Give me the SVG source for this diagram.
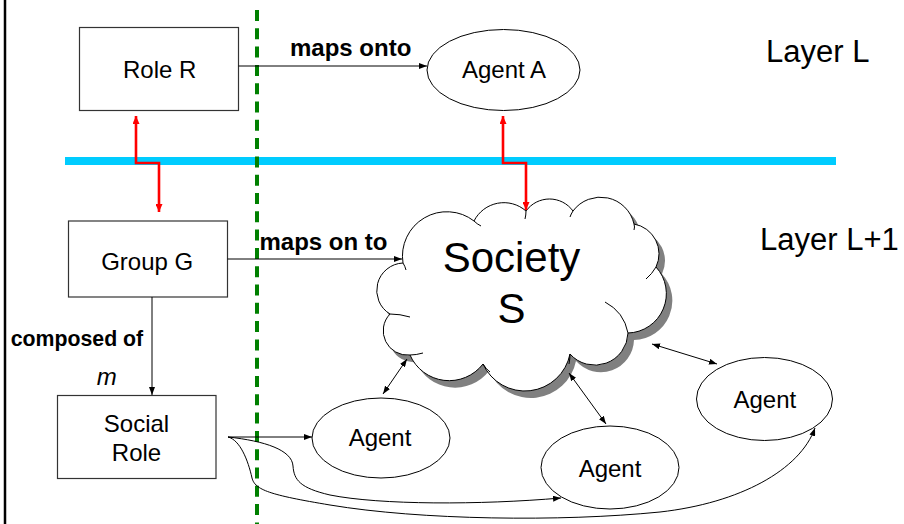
<svg xmlns="http://www.w3.org/2000/svg" width="904" height="524" viewBox="0 0 904 524">
  <style>
    text { font-family: "Liberation Sans", Arial, Helvetica, sans-serif; fill: #000; }
    .node { font-size: 24px; text-anchor: middle; }
    .lbl { font-size: 24px; font-weight: bold; }
    .lbl-small { font-size: 21.3px; font-weight: bold; }
    .mult { font-size: 24px; font-style: italic; }
    .big { font-size: 42px; text-anchor: middle; }
    .layer { font-size: 31px; }
    .box { fill: #fff; stroke: #333; stroke-width: 1.2; }
    .oval { fill: #fff; stroke: #000; stroke-width: 1; }
    .link { fill: none; stroke: #000; stroke-width: 1; }
    .red { fill: none; stroke: #ff0000; stroke-width: 2.6; }
    .tick { fill: none; stroke: #000; stroke-width: 1; }
  </style>
  <defs>
    <marker id="ah" viewBox="0 0 8 6" refX="8" refY="3" markerWidth="8" markerHeight="6" markerUnits="userSpaceOnUse" orient="auto-start-reverse">
      <path d="M0,0 L8,3 L0,6 z" fill="#000"/>
    </marker>
    <marker id="ahRed" viewBox="0 0 8 7" refX="8" refY="3.5" markerWidth="8" markerHeight="7" markerUnits="userSpaceOnUse" orient="auto-start-reverse">
      <path d="M0,0 L8,3.5 L0,7 z" fill="#ff0000"/>
    </marker>
    <path id="cloudShape" d="M403,263 A44.4,44.4 0 0 1 474,221 A33.5,33.5 0 0 1 526,211 A29,29 0 0 1 573,211 A34.3,34.3 0 0 1 634,224 A30.3,30.3 0 0 1 656,267 A39.4,39.4 0 0 1 628,333 A33.2,33.2 0 0 1 570,354 A46,46 0 0 1 483,364 A42.7,42.7 0 0 1 410,355 A24.3,24.3 0 0 1 390,314 A27.5,27.5 0 0 1 403,263 Z"/>
  </defs>

  <rect width="904" height="524" fill="#fff"/>

  <!-- frame edge and layer separators -->
  <line x1="5" y1="0" x2="5" y2="524" stroke="#000" stroke-width="2.5"/>
  <line x1="65" y1="161" x2="836" y2="161" stroke="#00ccff" stroke-width="8"/>
  <line x1="257" y1="10" x2="257" y2="524" stroke="#008000" stroke-width="4" stroke-dasharray="11 7.3"/>

  <!-- layer captions -->
  <text class="layer" x="766" y="62">Layer L</text>
  <text class="layer" x="760" y="250">Layer L+1</text>

  <!-- Layer L -->
  <g id="role-r">
    <rect class="box" x="79.5" y="27.5" width="159" height="83"/>
    <text class="node" x="159.7" y="78.3">Role R</text>
  </g>
  <g id="agent-a">
    <ellipse class="oval" cx="503.5" cy="70" rx="76.5" ry="40.5"/>
    <text class="node" x="504" y="77.7">Agent A</text>
  </g>

  <!-- Layer L+1 -->
  <g id="group-g">
    <rect class="box" x="68.5" y="221" width="159" height="76"/>
    <text class="node" x="147.2" y="270">Group G</text>
  </g>
  <g id="social-role">
    <rect class="box" x="57.5" y="395.5" width="158.5" height="83"/>
    <text class="node" x="136.5" y="431.7">Social</text>
    <text class="node" x="136.5" y="460.5">Role</text>
  </g>
  <g id="society-s">
    <use href="#cloudShape" transform="translate(6,7)" fill="#808080"/>
    <use href="#cloudShape" fill="#fff" stroke="#000" stroke-width="1"/>
    <path class="tick" d="M403,263 Q405,266 406,270"/>
    <path class="tick" d="M474,221 Q477,224 481,226"/>
    <path class="tick" d="M526,211 Q526,215 525,219"/>
    <path class="tick" d="M573,211 Q571,214 570,217"/>
    <path class="tick" d="M634,224 Q635,227 634,230"/>
    <path class="tick" d="M656,267 Q652,274 646,279"/>
    <path class="tick" d="M605,302 Q624,312 628,333"/>
    <path class="tick" d="M570,354 Q570,359 569,364"/>
    <path class="tick" d="M483,364 Q486,369 490,372"/>
    <path class="tick" d="M410,355 Q416,355 423,353"/>
    <path class="tick" d="M390,314 Q400,314 410,317"/>
    <text class="big" x="511.5" y="272">Society</text>
    <text class="big" x="511.5" y="323">S</text>
  </g>
  <g id="agent-1">
    <ellipse class="oval" cx="381" cy="438" rx="69" ry="40"/>
    <text class="node" x="380" y="445.7">Agent</text>
  </g>
  <g id="agent-2">
    <ellipse class="oval" cx="610" cy="467.5" rx="69" ry="41.5"/>
    <text class="node" x="610" y="476.7">Agent</text>
  </g>
  <g id="agent-3">
    <ellipse class="oval" cx="764.5" cy="399" rx="68" ry="41.5"/>
    <text class="node" x="764.8" y="408.3">Agent</text>
  </g>

  <!-- connectors -->
  <g id="connectors">
    <line class="link" x1="238.5" y1="66" x2="427" y2="66" marker-end="url(#ah)"/>
    <text class="lbl" x="290" y="55.5">maps onto</text>

    <line class="link" x1="227.5" y1="259" x2="402" y2="259" marker-end="url(#ah)"/>
    <text class="lbl" x="259.5" y="250">maps on to</text>

    <line class="link" x1="152" y1="297" x2="152" y2="395" marker-end="url(#ah)"/>
    <text class="lbl-small" x="10.7" y="345.5">composed of</text>
    <text class="mult" x="96.7" y="385">m</text>

    <path class="red" d="M136,116 V163 H159 V212" marker-start="url(#ahRed)" marker-end="url(#ahRed)"/>
    <path class="red" d="M503,116 V163 H526 V210" marker-start="url(#ahRed)" marker-end="url(#ahRed)"/>

    <line class="link" x1="407" y1="359" x2="383" y2="394" marker-start="url(#ah)" marker-end="url(#ah)"/>
    <line class="link" x1="569" y1="373" x2="606" y2="424" marker-start="url(#ah)" marker-end="url(#ah)"/>
    <line class="link" x1="652" y1="344" x2="717" y2="364" marker-start="url(#ah)" marker-end="url(#ah)"/>

    <line class="link" x1="228" y1="437" x2="312" y2="437" marker-end="url(#ah)"/>
    <path class="link" d="M228,437 C265,441 292,450 293,466 C294,480 300,488 330,495 C380,505 480,505 561,498" marker-end="url(#ah)"/>
    <path class="link" d="M228,437 C240,440 248,460 252,478 C255,490 270,495 330,505 C420,520 560,522 660,512 C740,503 800,470 815,428" marker-end="url(#ah)"/>
  </g>
</svg>
